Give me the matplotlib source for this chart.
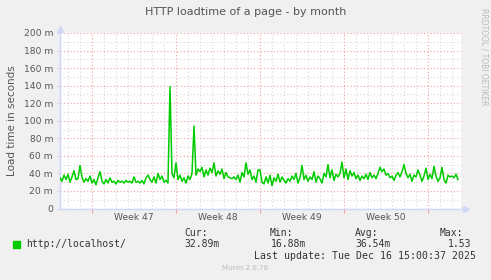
import numpy as np
from matplotlib import pyplot as plt

W, H = 491, 280

# load time in ms, one sample every 2 px (~4 h), starting Nov 14 ~08:00
load_ms = [
    35, 31, 38, 33, 39, 30, 36, 43, 33, 34,
    49, 36, 30, 34, 31, 37, 29, 33, 27, 35,
    42, 31, 28, 33, 29, 35, 30, 31, 28, 32,
    30, 31, 29, 32, 30, 31, 29, 36, 30, 31,
    29, 32, 28, 35, 38, 33, 30, 36, 29, 40,
    33, 37, 30, 32, 29, 139, 40, 35, 52, 33,
    38, 31, 35, 29, 37, 33, 40, 94, 38, 45,
    42, 47, 36, 44, 38, 46, 41, 52, 37, 43,
    39, 45, 34, 41, 36, 35, 34, 36, 33, 38,
    30, 41, 36, 52, 39, 44, 33, 37, 30, 44,
    44, 30, 28, 36, 29, 38, 26, 35, 31, 39,
    30, 36, 32, 29, 34, 31, 37, 33, 40, 29,
    35, 49, 33, 38, 31, 36, 33, 42, 30, 37,
    34, 29, 40, 36, 50, 35, 44, 32, 39, 36,
    40, 53, 35, 45, 33, 43, 37, 41, 34, 38,
    32, 37, 34, 39, 33, 41, 35, 38, 34, 40,
    47, 42, 45, 38, 40, 35, 37, 32, 38, 41,
    36, 42, 50, 40, 35, 39, 31, 38, 36, 44,
    38, 31, 37, 46, 33, 39, 34, 48, 37, 31,
    35, 47, 33, 29, 38, 36, 37, 35, 39, 33,
]
week_labels = ['Week 47', 'Week 48', 'Week 49', 'Week 50']
week_starts = [2.667, 9.667, 16.667, 23.667, 30.667]  # days from graph start
y_ticks = [0, 20, 40, 60, 80, 100, 120, 140, 160, 180, 200]

legend_name = 'http://localhost/'
stat_heads = ['Cur:', 'Min:', 'Avg:', 'Max:']
stat_vals = ['32.89m', '16.88m', '36.54m', '1.53']
last_update = 'Last update: Tue Dec 16 15:00:37 2025'

FONT = '#555555'
AXIS = '#cfd6f8'
GREEN = '#00cc00'

fig = plt.figure(figsize=(W / 100, H / 100), dpi=100)
fig.patch.set_facecolor('#f0f0f0')

L, R, T, B = 60, 461, 33, 208.5
ax = fig.add_axes([L / W, 1 - B / H, (R - L) / W, (B - T) / H])
ax.set_facecolor('white')

days = np.arange(len(load_ms)) * (2 / 12.0)
ax.set_xlim(0, (R - L) / 12.0)
ax.set_ylim(0, 200)

# grid
for d in np.arange(week_starts[0] - 2, 34, 1.0):
    if min(abs(d - w) for w in week_starts) > 0.01 and d > 0:
        ax.axvline(d, color='#d8d8d8', lw=0.8, ls=(0, (1, 2)), zorder=1)
for v in range(10, 200, 20):
    ax.axhline(v, color='#d8d8d8', lw=0.8, ls=(0, (1, 2)), zorder=1)
for v in y_ticks[1:]:
    ax.axhline(v, color='#f0a0a0', lw=0.8, ls=(0, (1, 2)), zorder=2)
for w in week_starts:
    ax.axvline(w, color='#f0a0a0', lw=0.8, ls=(0, (1, 2)), zorder=2)

ax.plot(days, load_ms, color=GREEN, lw=1.1, zorder=3)

# axes
for s in ['top', 'right']:
    ax.spines[s].set_visible(False)
for s in ['left', 'bottom']:
    ax.spines[s].set_color(AXIS)
    ax.spines[s].set_linewidth(1)
ax.plot([1.012], [0], marker='>', color=AXIS, ms=5, transform=ax.transAxes, clip_on=False)
ax.plot([0], [1.02], marker='^', color=AXIS, ms=5, transform=ax.transAxes, clip_on=False)
ax.plot([1.0, 1.012], [0, 0], color=AXIS, lw=1, transform=ax.transAxes, clip_on=False)
ax.plot([0, 0], [1.0, 1.02], color=AXIS, lw=1, transform=ax.transAxes, clip_on=False)

ax.set_yticks(y_ticks)
ax.set_yticklabels(['0'] + ['%d m' % v for v in y_ticks[1:]])
ax.set_xticks(week_starts)
ax.set_xticklabels([])
ax.set_xticks([(a + b) / 2 for a, b in zip(week_starts[:-1], week_starts[1:])], minor=True)
ax.set_xticklabels(week_labels, minor=True)
ax.tick_params(axis='x', which='minor', length=0, labelsize=6.6, colors=FONT, pad=3)
ax.tick_params(axis='x', which='major', length=3, color='#f0a0a0')
ax.tick_params(axis='y', length=2, color=AXIS, labelsize=6.6, labelcolor=FONT, pad=3)

ax.set_ylabel('Load time in seconds', fontsize=7.5, color=FONT, labelpad=5)

fig.text(246 / W, 1 - 12 / H, 'HTTP loadtime of a page - by month',
         ha='center', va='center', fontsize=8, color=FONT)
fig.text(484 / W, 1 - 8 / H, 'RRDTOOL / TOBI OETIKER', rotation=270,
         ha='center', va='top', fontsize=5.5, color='#bbbbbb')

# legend block
mono = 'DejaVu Sans Mono'
fig.patches.append(plt.Rectangle((13 / W, 1 - 248 / H), 7 / W, 7 / H,
                                 transform=fig.transFigure, color=GREEN))
fig.text(26 / W, 1 - 244 / H, legend_name, family=mono, fontsize=7,
         color='#333333', va='center')
head_x = [184, 270, 355, 440]
val_right = [220, 306, 391, 471]
for hx, vr, head, val in zip(head_x, val_right, stat_heads, stat_vals):
    fig.text(hx / W, 1 - 233 / H, head, family=mono, fontsize=7, color='#333333', va='center')
    fig.text(vr / W, 1 - 244 / H, val, family=mono, fontsize=7,
             color='#333333', va='center', ha='right')
fig.text(476 / W, 1 - 256 / H, last_update, family=mono, fontsize=7.1,
         color='#333333', va='center', ha='right')
fig.text(245 / W, 1 - 268 / H, 'Munin 2.0.76', fontsize=5, color='#bbbbbb',
         ha='center', va='center')

fig.savefig('out.png', dpi=100, facecolor=fig.get_facecolor())
